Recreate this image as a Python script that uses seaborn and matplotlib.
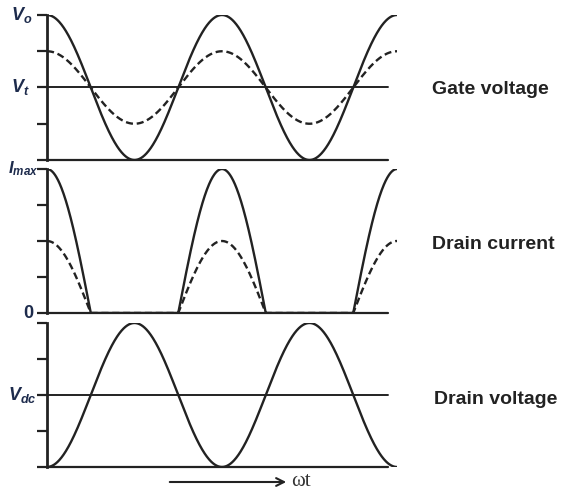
import numpy as np
import pandas as pd
import matplotlib
matplotlib.use("Agg")
import matplotlib.pyplot as plt
import seaborn as sns

sns.set_style("white")
plt.rcParams["font.family"] = ["Liberation Sans", "DejaVu Sans"]
plt.rcParams["mathtext.default"] = "regular"

# Waveform settings (normalised units)
n_periods = 2                 # cycles of omega*t shown
gate_swing = 1.0              # full gate swing: Vt -> Vo
gate_drive_small = 0.5        # reduced drive (dashed)
current_max = 1.0             # Imax
current_small = 0.5           # peak current for the reduced drive
drain_swing = 1.0             # drain voltage swing about Vdc

# Axis ticks and level labels
gate_ticks = [-1.0, -0.5, 0.0, 0.5, 1.0]
gate_labels = {1.0: "$V_o$", 0.0: "$V_t$"}
current_ticks = [0.0, 0.25, 0.5, 0.75, 1.0]
current_labels = {1.0: "$I_{max}$", 0.0: "0"}
drain_ticks = [-1.0, -0.5, 0.0, 0.5, 1.0]
drain_labels = {0.0: "$V_{dc}$"}
panel_titles = ["Gate voltage", "Drain current", "Drain voltage"]

wt = np.linspace(0, 2 * np.pi * n_periods, 800)
phase = np.cos(wt)
df = pd.DataFrame({
    "wt": wt,
    "gate_full": gate_swing * phase,
    "gate_small": gate_drive_small * phase,
    "id_full": current_max * np.clip(phase, 0, None),
    "id_small": current_small * np.clip(phase, 0, None),
    "vd": -drain_swing * phase,
})

W, H = 561, 490
fig = plt.figure(figsize=(W / 100, H / 100), dpi=100)

x0, x1 = 47, 397          # pixel extent of the curves
line_end = (388 - x0) / (x1 - x0)
panels = [(15, 160), (169, 313), (323, 467)]
axes = []
for top, bot in panels:
    ax = fig.add_axes([x0 / W, 1 - bot / H, (x1 - x0) / W, (bot - top) / H])
    ax.set_xlim(0, 2 * np.pi * n_periods)
    axes.append(ax)

ink = "#222222"
lab_col = "#1d2b4c"
lw = 1.7

# right-edge gap (pixels) between each level label and the axis line
label_gap = {"$V_o$": 15, "$V_t$": 17, "$I_{max}$": 9, "0": 14, "$V_{dc}$": 10}
label_size = {"$I_{max}$": 12}

def style(ax, ticks, labels, ylim):
    ax.set_ylim(*ylim)
    ax.set_facecolor("none")
    for s in ["top", "right", "bottom"]:
        ax.spines[s].set_visible(False)
    ax.spines["left"].set_linewidth(2.0)
    ax.spines["left"].set_color(ink)
    ax.set_xticks([])
    ax.set_yticks(ticks)
    ax.set_yticklabels([])
    ax.tick_params(axis="y", left=True, length=7, width=1.6, color=ink)
    for yv, txt in labels.items():
        ax.annotate(txt, xy=(0, yv), xycoords=("axes fraction", "data"),
                    xytext=(-label_gap[txt], 0), textcoords="offset pixels",
                    ha="right", va="center",
                    fontsize=label_size.get(txt, 13), fontweight="bold",
                    fontstyle="normal" if txt == "0" else "italic",
                    color=lab_col, annotation_clip=False)
    ax.axhline(ylim[0], xmin=0, xmax=line_end, color=ink, lw=1.6, clip_on=False)
    ax.set_xlabel("")
    ax.set_ylabel("")

# Gate voltage
ax = axes[0]
sns.lineplot(data=df, x="wt", y="gate_full", ax=ax, color=ink, lw=lw)
sns.lineplot(data=df, x="wt", y="gate_small", ax=ax, color=ink, lw=lw,
             linestyle=(0, (3, 1.6)))
ax.axhline(0, xmin=0, xmax=line_end, color=ink, lw=1.4)
style(ax, gate_ticks, gate_labels, (-1, 1))

# Drain current
ax = axes[1]
sns.lineplot(data=df, x="wt", y="id_full", ax=ax, color=ink, lw=lw)
sns.lineplot(data=df, x="wt", y="id_small", ax=ax, color=ink, lw=lw,
             linestyle=(0, (3, 1.6)))
style(ax, current_ticks, current_labels, (0, 1))

# Drain voltage
ax = axes[2]
sns.lineplot(data=df, x="wt", y="vd", ax=ax, color=ink, lw=lw)
ax.axhline(0, xmin=0, xmax=line_end, color=ink, lw=1.4)
style(ax, drain_ticks, drain_labels, (-1, 1))

# Panel captions
for (px, py), title in zip([(432, 89), (432, 244), (434, 399)], panel_titles):
    fig.text(px / W, 1 - py / H, title, fontsize=14, fontweight="bold",
             color=ink, ha="left", va="center")

# Time axis arrow
fig.patches.append(matplotlib.patches.FancyArrowPatch(
    (167 / W, 1 - 482 / H), (289 / W, 1 - 482 / H),
    transform=fig.transFigure, arrowstyle="->", mutation_scale=14,
    lw=1.5, color=ink))
fig.text(291 / W, 1 - 481 / H, "ωt", fontsize=15, color="#333333",
         ha="left", va="center", family=["Liberation Serif", "DejaVu Serif"])

fig.savefig("out.png", dpi=100)
